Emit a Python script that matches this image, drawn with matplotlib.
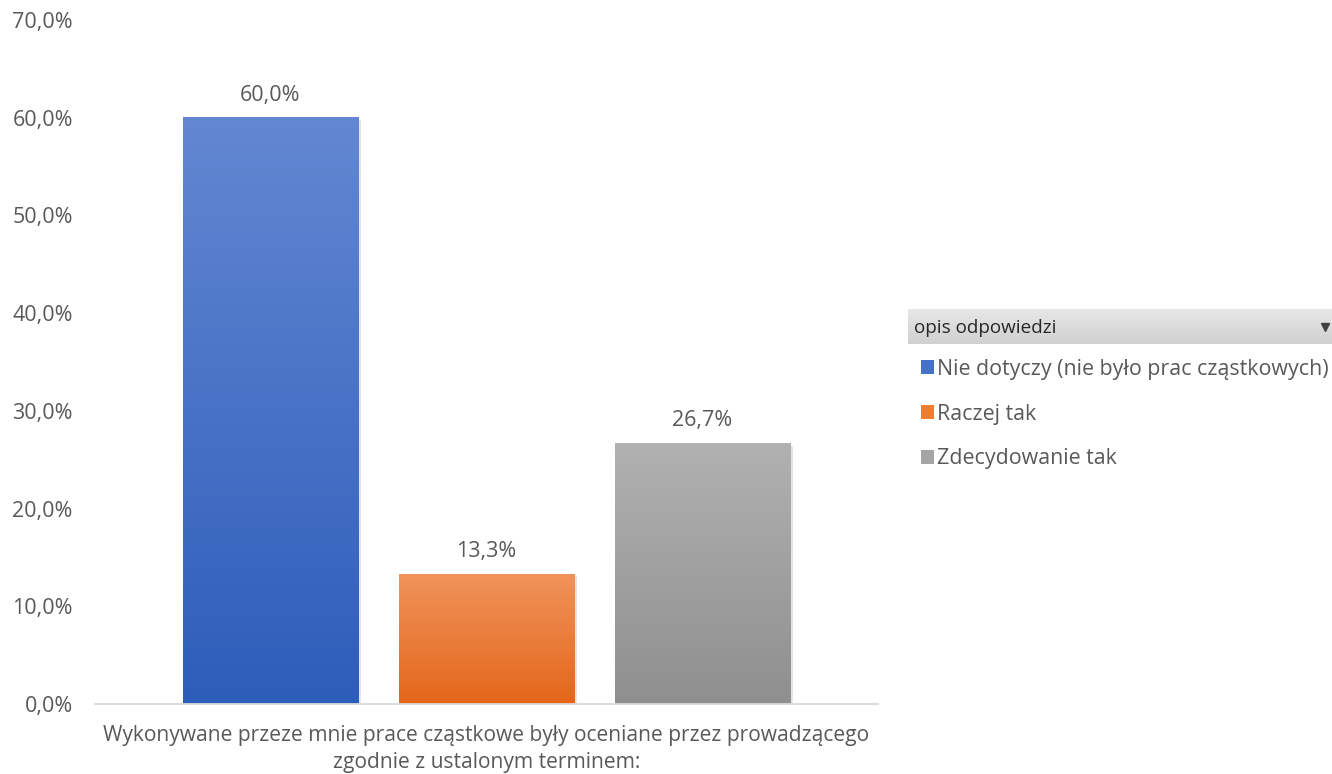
import numpy as np
import matplotlib
matplotlib.use("Agg")
import matplotlib.pyplot as plt
from matplotlib.patches import Rectangle, Patch
from matplotlib.colors import LinearSegmentedColormap

plt.rcParams['font.family'] = ['Open Sans', 'DejaVu Sans']

# donnees
categories = ["Nie dotyczy (nie było prac cząstkowych)", "Raczej tak", "Zdecydowanie tak"]
values = [60.0, 13.3, 26.7]
value_labels = ["60,0%", "13,3%", "26,7%"]
yticks = [0, 10, 20, 30, 40, 50, 60, 70]
ytick_labels = ["0,0%", "10,0%", "20,0%", "30,0%", "40,0%", "50,0%", "60,0%", "70,0%"]
xlabel = "Wykonywane przeze mnie prace cząstkowe były oceniane przez prowadzącego\nzgodnie z ustalonym terminem:"
legend_title = "opis odpowiedzi"

# couleurs (haut -> bas du degrade)
grad_top = ["#6387D2", "#F0935B", "#B1B1B1"]
grad_bot = ["#2D5DBA", "#E4661A", "#8F8F8F"]
legend_colors = ["#4472C4", "#ED7D31", "#A5A5A5"]
text_col = "#595959"

fig = plt.figure(figsize=(13.32, 7.74), dpi=100)
ax = fig.add_axes([95/1332, 1 - 704/774, 783/1332, 684/774])

x_pos = [0.5 - 0.276, 0.5, 0.5 + 0.276]
bars = ax.bar(x_pos, values, width=0.2235, color="none", zorder=2)

# degrade sur chaque barre
for b, c_top, c_bot in zip(bars, grad_top, grad_bot):
    cmap = LinearSegmentedColormap.from_list("g", [c_bot, c_top])
    grad = np.linspace(0, 1, 256).reshape(-1, 1)
    x0, w, h = b.get_x(), b.get_width(), b.get_height()
    # ombre legere
    ax.add_patch(Rectangle((x0 + 0.002, 0), w + 0.002, h - 0.25, color="#000000", alpha=0.10, zorder=1, lw=0))
    ax.imshow(grad, extent=(x0, x0 + w, 0, h), origin="lower", cmap=cmap, aspect="auto", zorder=2)

for b, lab in zip(bars, value_labels):
    ax.text(b.get_x() + b.get_width() / 2, b.get_height() + 2.3, lab, ha="center", va="center",
            fontsize=15.5, color=text_col)

ax.set_xlim(0, 1)
ax.set_ylim(0, 70)
ax.set_yticks(yticks)
ax.set_yticklabels(ytick_labels, fontsize=15.5, color=text_col)
ax.set_xticks([])
ax.tick_params(axis="y", length=0, pad=16)
for s in ["top", "right", "left"]:
    ax.spines[s].set_visible(False)
ax.spines["bottom"].set_color("#D9D9D9")
ax.spines["bottom"].set_linewidth(1.3)
ax.set_xlabel(xlabel, fontsize=15.1, color=text_col, labelpad=15, linespacing=1.4)

# en-tete de la legende (style tableau croise)
hdr = fig.add_axes([908/1332, 1 - 344/774, 424/1332, 35/774])
hdr.imshow(np.linspace(1, 0, 64).reshape(-1, 1), cmap=LinearSegmentedColormap.from_list("h", ["#D0D0D0", "#E8E8E8"]),
           aspect="auto", extent=(0, 1, 0, 1))
hdr.set_xlim(0, 1)
hdr.set_ylim(0, 1)
hdr.axis("off")
hdr.text(0.015, 0.47, legend_title, va="center", ha="left", fontsize=13.6, color="#262626")
hdr.plot([0.984], [0.5], marker="v", color="#404040", markersize=5.5)

handles = [Patch(facecolor=c, edgecolor="none") for c in legend_colors]
fig.legend(handles, categories, loc="upper left", bbox_to_anchor=(912/1332, 1 - 350/774),
           frameon=False, fontsize=15.4, labelcolor=text_col, handlelength=0.63, handleheight=0.63,
           handletextpad=0.15, labelspacing=1.12, borderaxespad=0)

fig.savefig("out.png", dpi=100)
